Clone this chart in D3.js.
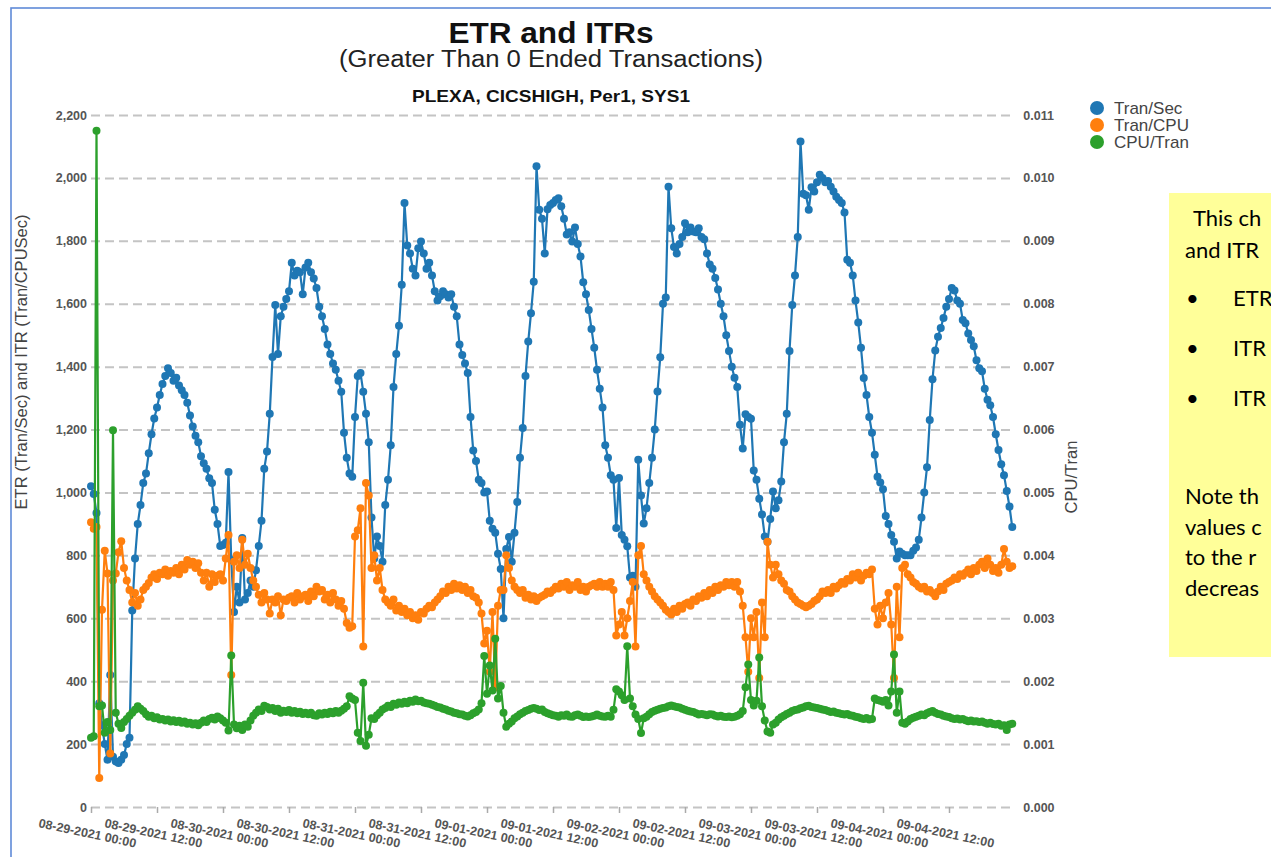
<!DOCTYPE html>
<html><head><meta charset="utf-8">
<script src="https://cdn.jsdelivr.net/npm/d3@7"></script>
<style>body{margin:0;background:#fff;overflow:hidden;} svg{display:block;}</style>
</head><body><svg id="chart" width="1271" height="857"></svg>
<script>
// ---------- data ----------
const startTime = new Date(2021, 7, 29, 0, 0);   // 08-29-2021 00:00
const endTime = new Date(2021, 8, 4, 23, 30);
const stepMinutes = 30;
const seriesNames = ["Tran/Sec", "Tran/CPU", "CPU/Tran"];
const seriesColors = ["#1f77b4", "#ff7f0e", "#2ca02c"];

const tranPerSec = [
1020,995,935,330,260,200,150,420,160,145,
140,150,165,200,220,625,790,900,960,1030,
1060,1125,1185,1235,1270,1310,1345,1370,1395,1380,
1355,1365,1340,1325,1310,1285,1245,1210,1180,1160,
1115,1093,1075,1045,1030,945,900,830,833,840,
1065,785,620,700,650,855,660,680,720,700,
753,830,910,1075,1130,1250,1431,1596,1440,1560,
1590,1615,1640,1730,1690,1705,1700,1630,1715,1730,
1700,1680,1650,1590,1560,1520,1470,1440,1410,1390,
1355,1320,1190,1110,1060,1050,1240,1370,1380,1320,
1250,1160,920,790,860,830,780,960,1040,1150,
1335,1440,1530,1660,1920,1785,1760,1711,1690,1776,
1798,1760,1711,1730,1690,1640,1610,1624,1640,1630,
1620,1630,1590,1560,1470,1437,1410,1380,1240,1133,
1100,1040,1030,1000,1003,910,885,872,805,757,
600,820,858,780,872,970,1110,1205,1370,1480,
1570,1670,2037,1899,1870,1760,1900,1914,1920,1930,
1935,1910,1870,1820,1827,1798,1842,1790,1750,1668,
1630,1580,1520,1460,1390,1330,1270,1150,1110,1055,
1040,887,1046,865,850,829,730,735,700,1104,
990,901,950,1030,1110,1200,1321,1430,1600,1620,
1972,1840,1780,1760,1790,1812,1856,1827,1842,1830,
1827,1840,1812,1805,1760,1725,1711,1682,1645,1600,
1560,1500,1450,1400,1365,1335,1215,1140,1249,1240,
1234,1070,1040,980,930,860,843,916,1003,950,
975,1035,1160,1250,1450,1596,1690,1812,2116,1950,
1945,1899,1970,1957,1986,2010,2000,1986,1990,1972,
1957,1940,1930,1920,1890,1740,1730,1690,1610,1540,
1460,1364,1310,1240,1190,1120,1050,1032,1010,925,
900,865,843,790,812,805,800,800,800,815,
825,850,920,1000,1080,1230,1360,1451,1495,1523,
1555,1590,1615,1650,1642,1610,1600,1548,1538,1505,
1485,1465,1420,1395,1385,1330,1295,1277,1240,1185,
1135,1090,1055,1005,955,890];

const tranPerCpu = [
905,885,890,92,627,815,742,170,720,742,
810,845,760,720,690,650,680,640,660,690,
700,712,730,740,725,745,740,755,735,750,
745,760,740,770,755,785,770,780,760,775,
745,720,745,700,740,715,735,740,720,790,
865,420,780,800,760,850,770,805,760,720,
700,675,650,680,660,615,660,650,670,610,
660,655,665,670,650,680,660,670,675,655,
685,670,700,685,690,660,675,650,680,660,
640,655,630,585,570,575,860,880,950,510,
1030,990,760,800,720,760,690,660,650,640,
660,625,640,620,630,610,620,600,610,595,
620,615,630,640,635,650,660,670,685,680,
700,690,710,695,705,690,700,680,690,670,
665,650,615,520,560,430,620,380,640,690,
690,800,760,720,700,690,680,690,665,675,
660,670,655,665,670,675,685,680,690,700,
695,710,700,715,690,705,700,715,690,700,
685,700,705,710,700,715,700,710,700,715,
690,545,580,620,545,600,655,715,510,800,
830,740,720,700,685,670,660,650,640,627,
620,612,630,620,640,630,645,650,640,660,
655,670,665,680,670,690,680,700,690,705,
700,715,705,715,700,715,685,640,540,430,
600,540,620,410,650,540,843,770,730,770,
740,720,710,690,685,670,660,650,645,640,
635,640,645,655,660,670,685,680,690,680,
700,695,705,715,710,725,720,740,730,745,
720,735,745,740,755,630,580,640,600,650,
680,580,410,700,540,760,770,740,730,715,
710,700,695,700,685,690,680,670,685,700,
690,710,715,720,730,725,740,735,745,755,
740,760,750,770,780,760,790,770,750,760,
745,770,820,780,760,765];

const cpuPerTran = [
0.0011,0.001125,0.01075,0.0016,0.001615,0.00118,0.00135,0.001225,0.00599,0.0015,
0.001325,0.001255,0.00135,0.0014,0.00145,0.0015,0.001545,0.0016,0.00156,0.001525,
0.001475,0.001435,0.00145,0.00141,0.001425,0.00139,0.0014,0.001375,0.00139,0.00136,
0.00138,0.00135,0.00137,0.00134,0.00136,0.001325,0.00134,0.00131,0.00133,0.0013,
0.00134,0.001375,0.00135,0.0014,0.00142,0.00139,0.00144,0.00141,0.001375,0.00134,
0.001215,0.00241,0.00131,0.00125,0.00129,0.001225,0.00131,0.001275,0.001375,0.00145,
0.0015,0.00155,0.001525,0.00161,0.00159,0.00155,0.001575,0.001525,0.00156,0.0015,
0.00153,0.00151,0.00154,0.0015,0.001525,0.00149,0.001515,0.00148,0.0015,0.001475,
0.0015,0.00146,0.00145,0.00149,0.00147,0.0015,0.00148,0.001515,0.00149,0.001525,
0.0015,0.00153,0.00156,0.0016,0.00176,0.001725,0.0017,0.00118,0.00105,0.001975,
0.000975,0.00115,0.00141,0.0014,0.00146,0.0015,0.00155,0.001575,0.00161,0.00159,
0.00164,0.001625,0.00166,0.00164,0.001675,0.00165,0.00169,0.001675,0.00171,0.00168,
0.00169,0.00166,0.00165,0.00164,0.001625,0.00161,0.00159,0.00158,0.00156,0.00155,
0.00153,0.00152,0.0015,0.00149,0.001475,0.00147,0.00145,0.00144,0.00146,0.00149,
0.00151,0.00155,0.00165,0.0024,0.0018,0.00225,0.00185,0.002675,0.001725,0.001925,
0.0015,0.001275,0.001325,0.00136,0.00141,0.00144,0.001475,0.0015,0.001525,0.00154,
0.00156,0.001575,0.00156,0.00154,0.00155,0.00151,0.00149,0.001475,0.00146,0.00145,
0.001435,0.00146,0.00145,0.00147,0.00144,0.001435,0.00146,0.00147,0.00145,0.00143,
0.00144,0.00143,0.00144,0.00145,0.00147,0.00145,0.00144,0.001435,0.00145,0.001435,
0.001545,0.00187,0.001835,0.001775,0.0017,0.002555,0.001725,0.0016,0.00147,0.0014,
0.001175,0.00141,0.001435,0.001475,0.00151,0.00153,0.001545,0.00156,0.001575,0.00158,
0.0016,0.001615,0.0016,0.00159,0.00158,0.00156,0.001545,0.00153,0.00152,0.00151,
0.00149,0.00147,0.00148,0.00147,0.00146,0.001475,0.00147,0.00145,0.00144,0.00145,
0.001435,0.00143,0.00144,0.001425,0.001435,0.00145,0.001475,0.001525,0.001905,0.002265,
0.0017,0.001615,0.00169,0.002375,0.0016,0.001375,0.0012,0.00118,0.00131,0.00134,
0.00139,0.001425,0.00145,0.00148,0.0015,0.001525,0.00154,0.00155,0.00157,0.00158,
0.0016,0.00161,0.00159,0.00158,0.001575,0.00156,0.00155,0.00154,0.001525,0.00151,
0.00152,0.0015,0.00149,0.00148,0.00147,0.00148,0.00146,0.00145,0.001435,0.001425,
0.00141,0.0014,0.001415,0.00139,0.0014,0.001725,0.0017,0.00169,0.001675,0.0017,
0.001615,0.001835,0.002425,0.0015,0.001835,0.00134,0.001325,0.00136,0.0014,0.00142,
0.001435,0.00145,0.00147,0.00146,0.00149,0.00151,0.001525,0.0015,0.00148,0.00147,
0.00145,0.00144,0.00143,0.00141,0.0014,0.001405,0.00139,0.0014,0.00138,0.001365,
0.001375,0.00136,0.001365,0.00135,0.00136,0.00134,0.001325,0.00134,0.00132,0.00131,
0.001325,0.00129,0.0013,0.001225,0.00131,0.001325];

const leftTicks = [0,200,400,600,800,1000,1200,1400,1600,1800,2000,2200];
const rightTicks = [0,0.001,0.002,0.003,0.004,0.005,0.006,0.007,0.008,0.009,0.010,0.011];
const titleText = "ETR and ITRs";
const subtitleText = "(Greater Than 0 Ended Transactions)";
const subtitle2Text = "PLEXA, CICSHIGH, Per1, SYS1";
const leftAxisTitle = "ETR (Tran/Sec) and ITR (Tran/CPUSec)";
const rightAxisTitle = "CPU/Tran";
// the note box runs off the right edge of the slide; only these parts are visible
const noteLines = ["This ch", "and ITR"];
const noteBullets = ["ETR", "ITR", "ITR"];
const noteFooter = ["Note th", "values c", "to the r", "decreas"];

// ---------- layout ----------
const FONT = "'Liberation Sans', Arial, sans-serif";
const plot = {left: 91, right: 1012.25, top: 115, bottom: 807};
const svg = d3.select("#chart");
svg.append("rect").attr("width", 1271).attr("height", 857).attr("fill", "#fff");

// slide frame
svg.append("rect").attr("x", 11).attr("y", 8).attr("width", 1400).attr("height", 1000)
  .attr("fill", "none").attr("stroke", "#5f8ad8").attr("stroke-width", 1.6);

// note box
svg.append("rect").attr("x", 1169).attr("y", 193).attr("width", 200).attr("height", 464)
  .attr("fill", "#ffff99");
const note = svg.append("g").attr("font-family", "Lato, 'Open Sans', sans-serif")
  .attr("font-size", 22).attr("fill", "#000");
note.append("text").attr("x", 1193).attr("y", 226).text(noteLines[0]);
note.append("text").attr("x", 1185).attr("y", 258).text(noteLines[1]);
noteBullets.forEach((b, i) => {
  note.append("text").attr("x", 1186).attr("y", 306 + i * 50).text("\u2022");
  note.append("text").attr("x", 1233).attr("y", 306 + i * 50).text(b);
});
noteFooter.forEach((l, i) => note.append("text").attr("x", 1185).attr("y", 504 + i * 30.5).text(l));

// ---------- scales ----------
const times = tranPerSec.map((_, i) => d3.timeMinute.offset(startTime, i * stepMinutes));
const x = d3.scaleTime().domain([startTime, endTime]).range([plot.left, plot.right]);
const yL = d3.scaleLinear().domain([0, 2200]).range([plot.bottom, plot.top]);
const yR = d3.scaleLinear().domain([0, 0.011]).range([plot.bottom, plot.top]);

// titles
svg.append("text").attr("x", 551).attr("y", 43).attr("text-anchor", "middle")
  .attr("font-family", FONT).attr("font-weight", "bold").attr("font-size", 29)
  .attr("textLength", 205).attr("lengthAdjust", "spacingAndGlyphs").attr("fill", "#111").text(titleText);
svg.append("text").attr("x", 551).attr("y", 67).attr("text-anchor", "middle")
  .attr("font-family", FONT).attr("font-size", 23)
  .attr("textLength", 424).attr("lengthAdjust", "spacingAndGlyphs").attr("fill", "#222").text(subtitleText);
svg.append("text").attr("x", 551).attr("y", 102).attr("text-anchor", "middle")
  .attr("font-family", FONT).attr("font-weight", "bold").attr("font-size", 16.5)
  .attr("textLength", 278).attr("lengthAdjust", "spacingAndGlyphs").attr("fill", "#111").text(subtitle2Text);

// left axis + gridlines
const gL = svg.append("g").attr("transform", `translate(${plot.left},0)`)
  .call(d3.axisLeft(yL).tickValues(leftTicks).tickFormat(d3.format(","))
    .tickSize(-(plot.right - plot.left)).tickPadding(4));
gL.select(".domain").remove();
gL.selectAll(".tick line").attr("stroke", "#c4c4c4").attr("stroke-width", 2).attr("stroke-dasharray", "9,5");
gL.selectAll(".tick text").attr("font-family", FONT).attr("font-weight", "bold")
  .attr("font-size", 12.5).attr("fill", "#555");

// right axis
const gR = svg.append("g").attr("transform", `translate(${plot.right},0)`)
  .call(d3.axisRight(yR).tickValues(rightTicks).tickFormat(d3.format(".3f")).tickSize(0).tickPadding(11));
gR.select(".domain").remove();
gR.selectAll(".tick text").attr("font-family", FONT).attr("font-weight", "bold")
  .attr("font-size", 12.5).attr("fill", "#555");

// bottom axis
const xTickTimes = d3.timeHour.every(12).range(startTime, d3.timeHour.offset(endTime, -11));
const gX = svg.append("g").attr("transform", `translate(0,${plot.bottom})`)
  .call(d3.axisBottom(x).tickValues(xTickTimes).tickFormat(d3.timeFormat("%m-%d-%Y %H:%M")).tickSize(6));
gX.select(".domain").remove();
gX.selectAll(".tick line").attr("stroke", "#aaa").attr("stroke-width", 1.5);
gX.selectAll(".tick text").attr("font-family", FONT).attr("font-weight", "bold")
  .attr("font-size", 12.5).attr("fill", "#555")
  .attr("y", null).attr("dy", "0.35em").attr("text-anchor", "middle")
  .attr("transform", "translate(-4,26) rotate(12)");

// axis titles
svg.append("text").attr("transform", "translate(27,362) rotate(-90)").attr("text-anchor", "middle")
  .attr("font-family", FONT).attr("font-size", 16.5).attr("fill", "#444").text(leftAxisTitle);
svg.append("text").attr("transform", "translate(1077,477) rotate(-90)").attr("text-anchor", "middle")
  .attr("font-family", FONT).attr("font-size", 16.5).attr("fill", "#444").text(rightAxisTitle);

// ---------- series ----------
const series = [
  {name: seriesNames[0], color: seriesColors[0], values: tranPerSec, y: yL},
  {name: seriesNames[1], color: seriesColors[1], values: tranPerCpu, y: yL},
  {name: seriesNames[2], color: seriesColors[2], values: cpuPerTran, y: yR}
];
series.forEach(s => {
  const pts = s.values.map((v, i) => ({t: times[i], v}));
  const g = svg.append("g");
  g.append("path").datum(pts).attr("fill", "none").attr("stroke", s.color).attr("stroke-width", 2.2)
    .attr("d", d3.line().x(d => x(d.t)).y(d => s.y(d.v)));
  g.selectAll("circle").data(pts).join("circle")
    .attr("cx", d => x(d.t)).attr("cy", d => s.y(d.v)).attr("r", 4).attr("fill", s.color);
});

// legend
const lg = svg.append("g").attr("transform", "translate(1097,108)");
series.forEach((s, i) => {
  lg.append("circle").attr("cx", 0).attr("cy", i * 17).attr("r", 7).attr("fill", s.color);
  lg.append("text").attr("x", 17).attr("y", i * 17).attr("dy", "0.36em")
    .attr("font-family", FONT).attr("font-size", 17).attr("fill", "#444").text(s.name);
});
</script></body></html>
